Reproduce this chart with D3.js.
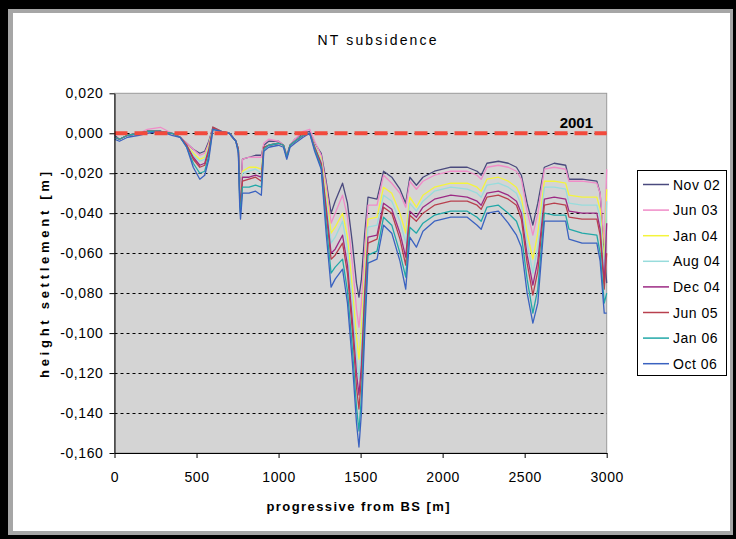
<!DOCTYPE html>
<html><head><meta charset="utf-8">
<script src="https://cdn.jsdelivr.net/npm/d3@7"></script>
<style>body{margin:0;background:#000;} svg{display:block}</style>
</head><body>
<script>
// ---------- data ----------
const distances = [0, 30, 80, 150, 200, 280, 350, 400, 440, 480,
  520, 550, 575, 600, 650, 700, 740, 755, 763, 768,
  780, 820, 860, 895, 910, 940, 1000, 1030, 1050, 1070,
  1100, 1150, 1190, 1220, 1260, 1290, 1320, 1345, 1390, 1420,
  1450, 1475, 1490, 1505, 1525, 1545, 1600, 1640, 1690, 1740,
  1775, 1800, 1840, 1880, 1950, 2050, 2150, 2210, 2235, 2270,
  2340, 2400, 2450, 2480, 2515, 2550, 2580, 2620, 2680, 2750,
  2770, 2850, 2940, 2960, 2985, 3000];

const seriesNames = ["Nov 02", "Jun 03", "Jan 04", "Aug 04", "Dec 04", "Jun 05", "Jan 06", "Oct 06"];
const seriesColors = ["#4a4a7e", "#f08cc8", "#f4f43c", "#98dcdc", "#9c2a84", "#b8404e", "#22a8a8", "#3a62c0"];

const nov02 = [-0.001, -0.003, -0.001, 0.000, 0.001, 0.001, 0.000, -0.002, -0.005, -0.008,
  -0.010, -0.009, -0.004, 0.003, 0.001, 0.000, -0.004, -0.008, -0.024, -0.030,
  -0.013, -0.012, -0.011, -0.011, -0.006, -0.004, -0.004, -0.006, -0.011, -0.006,
  -0.003, 0.000, 0.001, -0.005, -0.010, -0.024, -0.040, -0.034, -0.025, -0.035,
  -0.055, -0.075, -0.082, -0.073, -0.050, -0.032, -0.033, -0.019, -0.022, -0.028,
  -0.035, -0.022, -0.026, -0.022, -0.019, -0.017, -0.017, -0.019, -0.021, -0.015,
  -0.014, -0.015, -0.017, -0.021, -0.035, -0.046, -0.035, -0.017, -0.015, -0.016,
  -0.023, -0.023, -0.024, -0.030, -0.060, -0.075];
const jun03 = [-0.002, -0.003, -0.001, 0.000, 0.002, 0.003, 0.000, -0.002, -0.005, -0.008,
  -0.011, -0.010, -0.005, 0.003, 0.001, 0.000, -0.004, -0.008, -0.025, -0.031,
  -0.013, -0.012, -0.012, -0.012, -0.005, -0.003, -0.004, -0.006, -0.011, -0.006,
  -0.003, 0.001, 0.002, -0.004, -0.011, -0.026, -0.045, -0.040, -0.031, -0.042,
  -0.065, -0.088, -0.097, -0.085, -0.058, -0.036, -0.036, -0.021, -0.025, -0.030,
  -0.037, -0.024, -0.028, -0.024, -0.021, -0.019, -0.019, -0.021, -0.023, -0.017,
  -0.016, -0.017, -0.019, -0.023, -0.039, -0.051, -0.040, -0.018, -0.017, -0.018,
  -0.024, -0.024, -0.025, -0.030, -0.055, -0.018];
const jan04 = [-0.002, -0.003, -0.001, 0.000, 0.001, 0.001, 0.000, -0.002, -0.006, -0.010,
  -0.013, -0.012, -0.006, 0.003, 0.001, 0.000, -0.004, -0.008, -0.027, -0.033,
  -0.019, -0.017, -0.017, -0.018, -0.007, -0.006, -0.005, -0.006, -0.012, -0.006,
  -0.004, -0.001, 0.000, -0.006, -0.013, -0.030, -0.050, -0.047, -0.040, -0.052,
  -0.078, -0.102, -0.113, -0.098, -0.068, -0.043, -0.042, -0.027, -0.030, -0.040,
  -0.050, -0.032, -0.037, -0.031, -0.027, -0.025, -0.025, -0.027, -0.029, -0.023,
  -0.022, -0.024, -0.027, -0.032, -0.050, -0.063, -0.050, -0.024, -0.024, -0.025,
  -0.031, -0.032, -0.032, -0.038, -0.065, -0.028];
const aug04 = [-0.002, -0.003, -0.001, 0.000, 0.001, 0.001, 0.000, -0.002, -0.006, -0.011,
  -0.014, -0.013, -0.007, 0.003, 0.001, 0.000, -0.004, -0.008, -0.028, -0.034,
  -0.020, -0.019, -0.018, -0.020, -0.007, -0.006, -0.005, -0.006, -0.012, -0.006,
  -0.004, -0.001, 0.000, -0.006, -0.014, -0.033, -0.055, -0.052, -0.044, -0.058,
  -0.085, -0.112, -0.123, -0.108, -0.074, -0.047, -0.046, -0.031, -0.034, -0.044,
  -0.055, -0.035, -0.039, -0.034, -0.029, -0.027, -0.028, -0.030, -0.032, -0.026,
  -0.025, -0.027, -0.030, -0.036, -0.055, -0.070, -0.057, -0.027, -0.027, -0.028,
  -0.035, -0.036, -0.036, -0.042, -0.070, -0.034];
const dec04 = [-0.002, -0.003, -0.001, 0.000, 0.001, 0.001, 0.000, -0.002, -0.006, -0.012,
  -0.016, -0.015, -0.008, 0.003, 0.001, 0.000, -0.004, -0.008, -0.030, -0.036,
  -0.022, -0.022, -0.021, -0.022, -0.007, -0.006, -0.005, -0.006, -0.012, -0.006,
  -0.004, -0.001, 0.000, -0.007, -0.015, -0.037, -0.060, -0.058, -0.051, -0.066,
  -0.094, -0.120, -0.131, -0.116, -0.080, -0.052, -0.051, -0.035, -0.038, -0.050,
  -0.062, -0.039, -0.042, -0.037, -0.033, -0.031, -0.032, -0.034, -0.036, -0.030,
  -0.029, -0.031, -0.034, -0.040, -0.061, -0.076, -0.064, -0.033, -0.032, -0.033,
  -0.039, -0.040, -0.040, -0.048, -0.075, -0.045];
const jun05 = [-0.002, -0.003, -0.001, 0.000, 0.001, 0.001, 0.000, -0.002, -0.006, -0.013,
  -0.017, -0.016, -0.009, 0.003, 0.001, 0.000, -0.004, -0.008, -0.031, -0.037,
  -0.024, -0.023, -0.022, -0.024, -0.007, -0.006, -0.005, -0.006, -0.012, -0.006,
  -0.004, -0.001, 0.000, -0.007, -0.016, -0.040, -0.063, -0.061, -0.055, -0.070,
  -0.099, -0.127, -0.138, -0.122, -0.085, -0.055, -0.053, -0.037, -0.040, -0.053,
  -0.066, -0.041, -0.044, -0.040, -0.036, -0.034, -0.034, -0.036, -0.038, -0.032,
  -0.031, -0.033, -0.036, -0.043, -0.065, -0.081, -0.069, -0.036, -0.035, -0.036,
  -0.042, -0.043, -0.043, -0.051, -0.078, -0.060];
const jan06 = [-0.002, -0.003, -0.001, 0.000, 0.001, 0.001, 0.000, -0.002, -0.007, -0.015,
  -0.020, -0.019, -0.011, 0.002, 0.001, 0.000, -0.004, -0.009, -0.034, -0.040,
  -0.027, -0.027, -0.026, -0.027, -0.008, -0.006, -0.005, -0.006, -0.012, -0.006,
  -0.004, -0.001, 0.000, -0.008, -0.017, -0.045, -0.070, -0.067, -0.063, -0.079,
  -0.108, -0.137, -0.149, -0.132, -0.093, -0.061, -0.059, -0.042, -0.046, -0.060,
  -0.072, -0.047, -0.050, -0.045, -0.041, -0.039, -0.039, -0.042, -0.044, -0.037,
  -0.036, -0.040, -0.044, -0.051, -0.073, -0.090, -0.078, -0.040, -0.041, -0.041,
  -0.048, -0.050, -0.051, -0.060, -0.085, -0.080];
const oct06 = [-0.003, -0.004, -0.002, -0.001, 0.000, 0.001, -0.001, -0.002, -0.007, -0.017,
  -0.023, -0.021, -0.013, 0.002, 0.001, 0.000, -0.004, -0.010, -0.036, -0.043,
  -0.030, -0.030, -0.029, -0.031, -0.009, -0.007, -0.006, -0.007, -0.013, -0.007,
  -0.005, -0.002, 0.000, -0.009, -0.018, -0.050, -0.077, -0.073, -0.068, -0.085,
  -0.115, -0.145, -0.157, -0.140, -0.100, -0.065, -0.063, -0.046, -0.050, -0.064,
  -0.078, -0.052, -0.057, -0.049, -0.044, -0.042, -0.042, -0.046, -0.048, -0.040,
  -0.039, -0.045, -0.051, -0.057, -0.080, -0.095, -0.085, -0.044, -0.044, -0.044,
  -0.053, -0.055, -0.055, -0.064, -0.090, -0.090];

const seriesValues = [nov02, jun03, jan04, aug04, dec04, jun05, jan06, oct06];
const yTicks = [0.02, 0, -0.02, -0.04, -0.06, -0.08, -0.1, -0.12, -0.14, -0.16];
const xTicks = [0, 500, 1000, 1500, 2000, 2500, 3000];
const referenceLevel = 0;
const referenceLabel = "2001";
const titleText = "NT subsidence";
const xTitle = "progressive from BS [m]";
const yTitle = "height settlement [m]";

// ---------- drawing ----------
const W = 736, H = 539;
const FONT = "'Liberation Sans', Arial, sans-serif";
const svg = d3.select("body").append("svg").attr("width", W).attr("height", H);

// frame
svg.append("rect").attr("width", W).attr("height", H).attr("fill", "#000");
svg.append("rect").attr("x", 8).attr("y", 9).attr("width", 725).attr("height", 526).attr("fill", "#a6a6a6");
svg.append("rect").attr("x", 13).attr("y", 13).attr("width", 717).attr("height", 518).attr("fill", "#fff");

const pl = 114.5, pr = 606.7, pt = 93.3, pb = 453;
const x = d3.scaleLinear().domain([0, 3000]).range([pl, pr]);
const y = d3.scaleLinear().domain([-0.16, 0.02]).range([pb, pt]);

// plot background
svg.append("rect").attr("x", pl).attr("y", pt).attr("width", pr - pl).attr("height", pb - pt)
  .attr("fill", "#d4d4d4").attr("stroke", "#9a9a9a").attr("stroke-width", 1);

// grid lines
svg.append("g").selectAll("line").data(yTicks.filter(d => d < 0.02 && d > -0.16)).join("line")
  .attr("x1", pl).attr("x2", pr).attr("y1", d => Math.round(y(d)) + 0.5).attr("y2", d => Math.round(y(d)) + 0.5)
  .attr("stroke", "#000").attr("stroke-width", 1).attr("stroke-dasharray", "3,3");

// series
const line = d3.line().x((d, i) => x(distances[i])).y(d => y(d));
svg.append("g").selectAll("path").data(seriesValues).join("path")
  .attr("d", d => line(d)).attr("fill", "none")
  .attr("stroke", (d, i) => seriesColors[i]).attr("stroke-width", 1.3).attr("stroke-linejoin", "round");

// reference line 2001
svg.append("line").attr("x1", x(0)).attr("x2", x(3000)).attr("y1", y(referenceLevel)).attr("y2", y(referenceLevel))
  .attr("stroke", "#f24a3c").attr("stroke-width", 4).attr("stroke-dasharray", "13,7");
svg.append("text").attr("x", 593).attr("y", 128).attr("text-anchor", "end")
  .attr("font-family", FONT).attr("font-weight", "bold").attr("font-size", 15).text(referenceLabel);

// axes
const loc = d3.formatLocale({decimal: ",", thousands: ".", grouping: [3], currency: ["", ""], minus: "-"});
const fmt = loc.format(".3f");
const yAxis = svg.append("g").attr("transform", `translate(${pl},0)`)
  .call(d3.axisLeft(y).tickValues(yTicks).tickFormat(fmt).tickSize(5).tickSizeOuter(0).tickPadding(6));
const xAxis = svg.append("g").attr("transform", `translate(0,${pb})`)
  .call(d3.axisBottom(x).tickValues(xTicks).tickFormat(d3.format("d")).tickSize(5).tickSizeOuter(0).tickPadding(14));
[yAxis, xAxis].forEach(a => {
  a.selectAll("path,line").attr("stroke", "#000");
  a.selectAll("text").attr("font-family", FONT).attr("font-size", 14).attr("fill", "#000").attr("letter-spacing", "0.6px");
});

// titles
svg.append("text").attr("x", 377).attr("y", 45).attr("text-anchor", "middle")
  .attr("font-family", FONT).attr("font-size", 14).attr("textLength", 119).attr("lengthAdjust", "spacing").text(titleText);
svg.append("text").attr("x", 358).attr("y", 511).attr("text-anchor", "middle")
  .attr("font-family", FONT).attr("font-weight", "bold").attr("font-size", 13).attr("textLength", 183).attr("lengthAdjust", "spacing").text(xTitle);
svg.append("text").attr("transform", "translate(49,275) rotate(-90)").attr("text-anchor", "middle")
  .attr("font-family", FONT).attr("font-weight", "bold").attr("font-size", 13).attr("textLength", 206).attr("lengthAdjust", "spacing").text(yTitle);

// legend
const lg = svg.append("g");
lg.append("rect").attr("x", 637.5).attr("y", 170.5).attr("width", 89).attr("height", 205)
  .attr("fill", "#fff").attr("stroke", "#000").attr("stroke-width", 1);
const items = lg.selectAll("g.it").data(seriesNames).join("g").attr("class", "it")
  .attr("transform", (d, i) => `translate(0,${184.5 + i * 25.6})`);
items.append("line").attr("x1", 643).attr("x2", 669).attr("stroke", (d, i) => seriesColors[i]).attr("stroke-width", 1.5);
items.append("text").attr("x", 673).attr("y", 5).attr("font-family", FONT).attr("font-size", 14)
  .attr("letter-spacing", "0.5px").text(d => d);
</script>
</body></html>
